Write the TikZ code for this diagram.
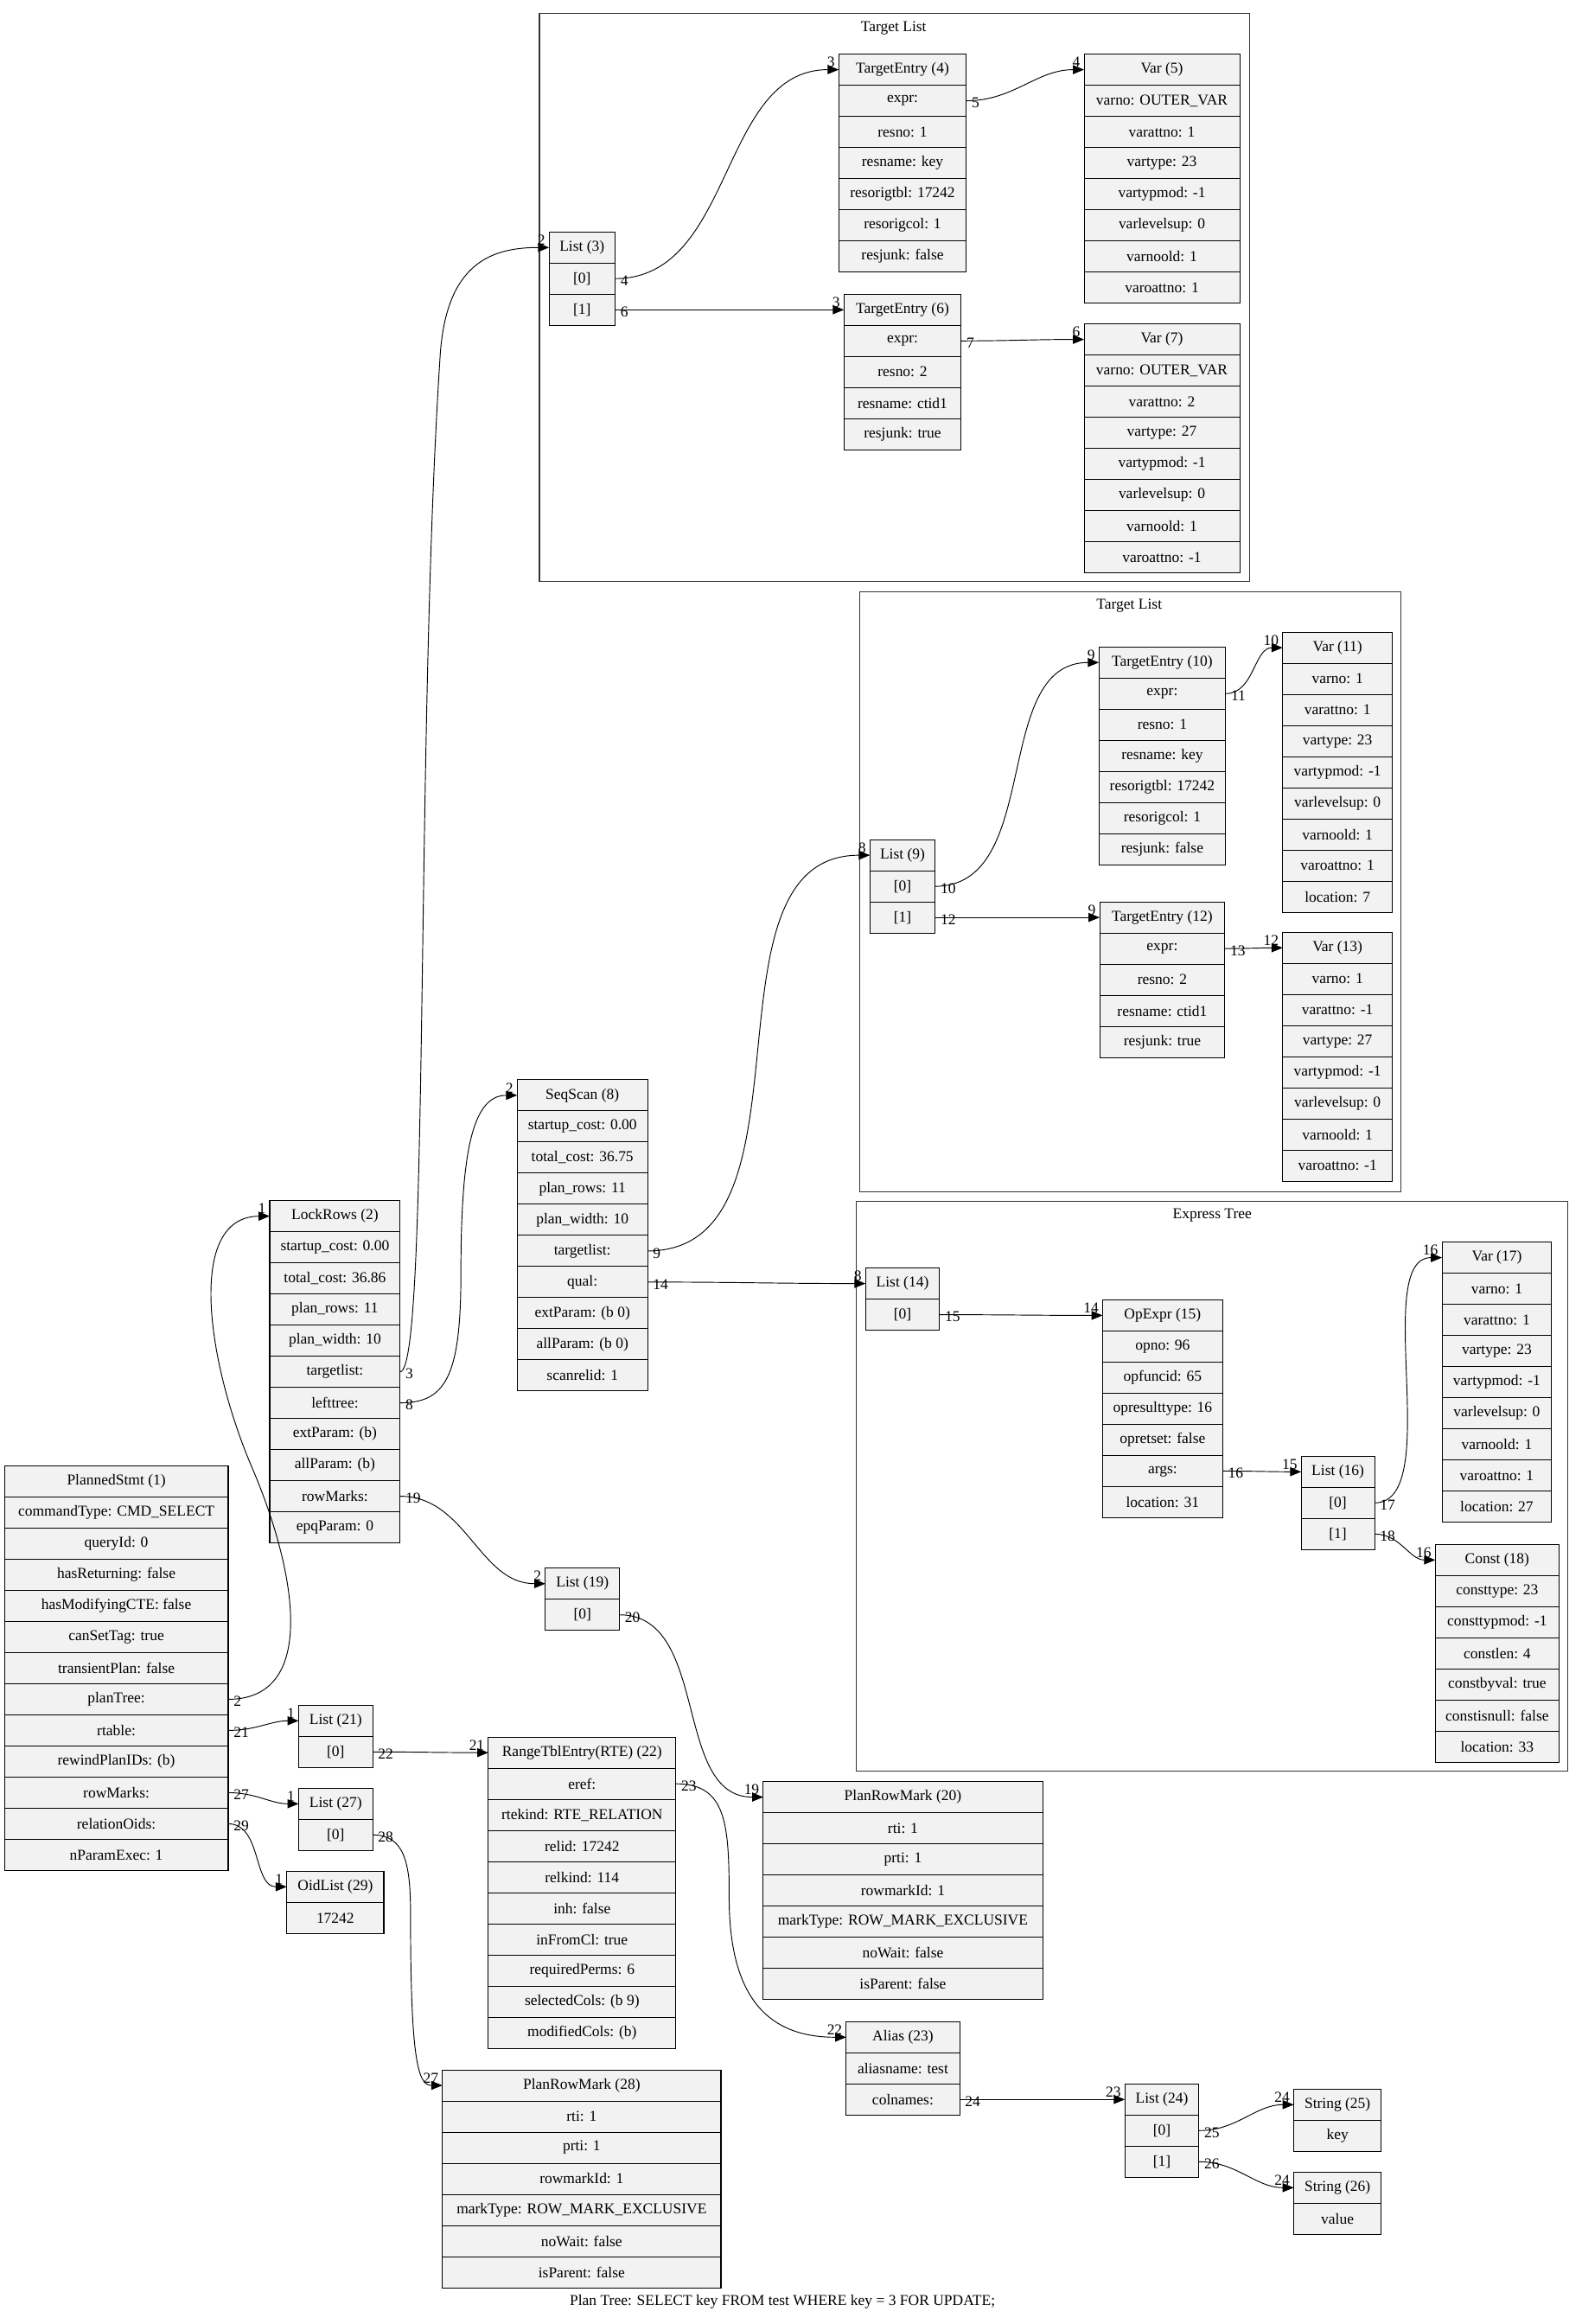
\documentclass[tikz,border=0pt]{standalone}
\usepackage{fontspec}
\setmainfont{Liberation Serif}
\usetikzlibrary{arrows.meta}
\definecolor{cellfill}{HTML}{F2F2F2}
\definecolor{clusterline}{HTML}{333333}
\newcommand{\recfont}{\fontsize{10.2pt}{12pt}\selectfont}
\newcommand{\rec}[5]{%
  \foreach \rtxt [count=\i from 0] in {#5} {%
    \node[cell, minimum width=#4pt] (#1-\i) at (#2,{#3+\i*21}) {\rtxt};
  }%
}
\newcommand{\elab}[4]{%
  \node[taillab] (lt-#1) at (#1.east) {#2};
  \node[headlab] (lh-#3) at (#3.west) {#4};
}
\tikzset{
  cell/.style={draw=black, fill=cellfill, line width=0.6pt, minimum height=21pt,
    inner sep=0pt, outer sep=0pt, anchor=north west, font=\recfont},
  edge/.style={line width=0.55pt, -{Triangle[length=7.5pt,width=6pt]}},
  taillab/.style={anchor=west, inner sep=0pt, font=\recfont, xshift=3.5pt, yshift=-1.5pt},
  headlab/.style={anchor=east, inner sep=0pt, font=\recfont, xshift=-2.5pt, yshift=5pt},
  cluster/.style={draw=clusterline, line width=0.6pt},
  ctitle/.style={inner sep=0pt, font=\recfont}
}
\begin{document}
\begin{tikzpicture}[x=1pt,y=-1pt]
\useasboundingbox (0,0) rectangle (1067,1568);

% clusters
\draw[cluster] (364,9) rectangle (843,392.5);
\node[ctitle] (ttl1) at (603,19) {Target List};
\draw[cluster] (580,399.3) rectangle (945,804);
\node[ctitle] (ttl2) at (762,408.5) {Target List};
\draw[cluster] (578,810.3) rectangle (1058,1195);
\node[ctitle] (ttl3) at (818,820) {Express Tree};

% records
\rec{ps}{3}{989}{151}{PlannedStmt (1), commandType: CMD\_SELECT, queryId: 0, hasReturning: false, hasModifyingCTE: false, canSetTag: true, transientPlan: false, planTree:, rtable:, rewindPlanIDs: (b), rowMarks:, relationOids:, nParamExec: 1}
\rec{lr}{182}{810}{88}{LockRows (2), startup\_cost: 0.00, total\_cost: 36.86, plan\_rows: 11, plan\_width: 10, targetlist:, lefttree:, extParam: (b), allParam: (b), rowMarks:, epqParam: 0}
\rec{seq}{349}{728.5}{88}{SeqScan (8), startup\_cost: 0.00, total\_cost: 36.75, plan\_rows: 11, plan\_width: 10, targetlist:, qual:, extParam: (b 0), allParam: (b 0), scanrelid: 1}
\rec{l3}{370.5}{156.5}{44.5}{List (3), [0], [1]}
\rec{te4}{566}{36.5}{86}{TargetEntry (4), expr:, resno: 1, resname: key, resorigtbl: 17242, resorigcol: 1, resjunk: false}
\rec{v5}{731.5}{36.5}{105}{Var (5), varno: OUTER\_VAR, varattno: 1, vartype: 23, vartypmod: -1, varlevelsup: 0, varnoold: 1, varoattno: 1}
\rec{te6}{569.5}{198.5}{79}{TargetEntry (6), expr:, resno: 2, resname: ctid1, resjunk: true}
\rec{v7}{731.5}{218.5}{105}{Var (7), varno: OUTER\_VAR, varattno: 2, vartype: 27, vartypmod: -1, varlevelsup: 0, varnoold: 1, varoattno: -1}
\rec{l9}{587}{566.5}{44}{List (9), [0], [1]}
\rec{te10}{741.5}{436.5}{85.5}{TargetEntry (10), expr:, resno: 1, resname: key, resorigtbl: 17242, resorigcol: 1, resjunk: false}
\rec{v11}{865.5}{426.5}{74}{Var (11), varno: 1, varattno: 1, vartype: 23, vartypmod: -1, varlevelsup: 0, varnoold: 1, varoattno: 1, location: 7}
\rec{te12}{742}{608.5}{84.5}{TargetEntry (12), expr:, resno: 2, resname: ctid1, resjunk: true}
\rec{v13}{865.5}{629}{74}{Var (13), varno: 1, varattno: -1, vartype: 27, vartypmod: -1, varlevelsup: 0, varnoold: 1, varoattno: -1}
\rec{l14}{584}{855.5}{50}{List (14), [0]}
\rec{op15}{744}{877}{81}{OpExpr (15), opno: 96, opfuncid: 65, opresulttype: 16, opretset: false, args:, location: 31}
\rec{l16}{878}{982.5}{49.5}{List (16), [0], [1]}
\rec{v17}{973}{838}{74}{Var (17), varno: 1, varattno: 1, vartype: 23, vartypmod: -1, varlevelsup: 0, varnoold: 1, varoattno: 1, location: 27}
\rec{c18}{968.5}{1042}{83.5}{Const (18), consttype: 23, consttypmod: -1, constlen: 4, constbyval: true, constisnull: false, location: 33}
\rec{l19}{368}{1058}{50}{List (19), [0]}
\rec{l21}{201.5}{1150.5}{50}{List (21), [0]}
\rec{l27}{201.5}{1206.5}{50}{List (27), [0]}
\rec{oid29}{193.5}{1262.5}{65.5}{OidList (29), 17242}
\rec{rte22}{329.5}{1172}{126.5}{RangeTblEntry(RTE) (22), eref:, rtekind: RTE\_RELATION, relid: 17242, relkind: 114, inh: false, inFromCl: true, requiredPerms: 6, selectedCols: (b 9), modifiedCols: (b)}
\rec{prm20}{515}{1202}{188.5}{PlanRowMark (20), rti: 1, prti: 1, rowmarkId: 1, markType: ROW\_MARK\_EXCLUSIVE, noWait: false, isParent: false}
\rec{al23}{571}{1364}{76.5}{Alias (23), aliasname: test, colnames:}
\rec{l24}{759}{1406}{50}{List (24), [0], [1]}
\rec{s25}{873}{1409.5}{59}{String (25), key}
\rec{s26}{873}{1465.5}{59}{String (26), value}
\rec{prm28}{298.5}{1396.5}{188}{PlanRowMark (28), rti: 1, prti: 1, rowmarkId: 1, markType: ROW\_MARK\_EXCLUSIVE, noWait: false, isParent: false}

% edges
\draw[edge] (ps-7.east) .. controls (215,1146.5) and (200,1060) .. (170,990) .. controls (140,920) and (125,821) .. (lr-0.west);
\draw[edge] (ps-8.east) to[out=0,in=180] (l21-0.west);
\draw[edge] (ps-10.east) to[out=0,in=180] (l27-0.west);
\draw[edge] (ps-11.east) to[out=0,in=180] (oid29-0.west);
\draw[edge] (lr-5.east) .. controls (290,925.5) and (280,500) .. (297,240) .. controls (301,179) and (330,167) .. (l3-0.west);
\draw[edge] (lr-6.east) .. controls (300,946.5) and (311,930) .. (311,860) .. controls (311,780) and (318,739) .. (seq-0.west);
\draw[edge] (lr-9.east) to[out=0,in=180] (l19-0.west);
\draw[edge] (l3-1.east) to[out=0,in=180] (te4-0.west);
\draw[edge] (l3-2.east) to[out=0,in=180] (te6-0.west);
\draw[edge] (te4-1.east) to[out=0,in=180] (v5-0.west);
\draw[edge] (te6-1.east) to[out=0,in=180] (v7-0.west);
\draw[edge] (seq-5.east) to[out=0,in=180] (l9-0.west);
\draw[edge] (seq-6.east) to[out=0,in=180] (l14-0.west);
\draw[edge] (l9-1.east) to[out=0,in=180] (te10-0.west);
\draw[edge] (l9-2.east) to[out=0,in=180] (te12-0.west);
\draw[edge] (te10-1.east) to[out=0,in=180] (v11-0.west);
\draw[edge] (te12-1.east) to[out=0,in=180] (v13-0.west);
\draw[edge] (l14-1.east) to[out=0,in=180] (op15-0.west);
\draw[edge] (op15-5.east) to[out=0,in=180] (l16-0.west);
\draw[edge] (l16-1.east) .. controls (975,1014) and (925,848.5) .. (v17-0.west);
\draw[edge] (l16-2.east) to[out=0,in=180] (c18-0.west);
\draw[edge] (l19-1.east) to[out=0,in=180] (prm20-0.west);
\draw[edge] (l21-1.east) to[out=0,in=180] (rte22-0.west);
\draw[edge] (rte22-1.east) .. controls (490,1203.5) and (492,1230) .. (492,1280) .. controls (492,1350) and (520,1374.5) .. (al23-0.west);
\draw[edge] (al23-2.east) to[out=0,in=180] (l24-0.west);
\draw[edge] (l24-1.east) to[out=0,in=180] (s25-0.west);
\draw[edge] (l24-2.east) to[out=0,in=180] (s26-0.west);
\draw[edge] (l27-1.east) .. controls (272,1238) and (277,1255) .. (277,1290) .. controls (277,1390) and (282,1407) .. (prm28-0.west);

% edge labels
\elab{ps-7}{2}{lr-0}{1}
\elab{ps-8}{21}{l21-0}{1}
\elab{ps-10}{27}{l27-0}{1}
\elab{ps-11}{29}{oid29-0}{1}
\elab{lr-5}{3}{l3-0}{2}
\elab{lr-6}{8}{seq-0}{2}
\elab{lr-9}{19}{l19-0}{2}
\elab{l3-1}{4}{te4-0}{3}
\elab{l3-2}{6}{te6-0}{3}
\elab{te4-1}{5}{v5-0}{4}
\elab{te6-1}{7}{v7-0}{6}
\elab{seq-5}{9}{l9-0}{8}
\elab{seq-6}{14}{l14-0}{8}
\elab{l9-1}{10}{te10-0}{9}
\elab{l9-2}{12}{te12-0}{9}
\elab{te10-1}{11}{v11-0}{10}
\elab{te12-1}{13}{v13-0}{12}
\elab{l14-1}{15}{op15-0}{14}
\elab{op15-5}{16}{l16-0}{15}
\elab{l16-1}{17}{v17-0}{16}
\elab{l16-2}{18}{c18-0}{16}
\elab{l19-1}{20}{prm20-0}{19}
\elab{l21-1}{22}{rte22-0}{21}
\elab{rte22-1}{23}{al23-0}{22}
\elab{al23-2}{24}{l24-0}{23}
\elab{l24-1}{25}{s25-0}{24}
\elab{l24-2}{26}{s26-0}{24}
\elab{l27-1}{28}{prm28-0}{27}

% caption
\node[ctitle] (caption) at (528,1553) {Plan Tree: SELECT key FROM test WHERE key = 3 FOR UPDATE;};
\end{tikzpicture}
\end{document}
